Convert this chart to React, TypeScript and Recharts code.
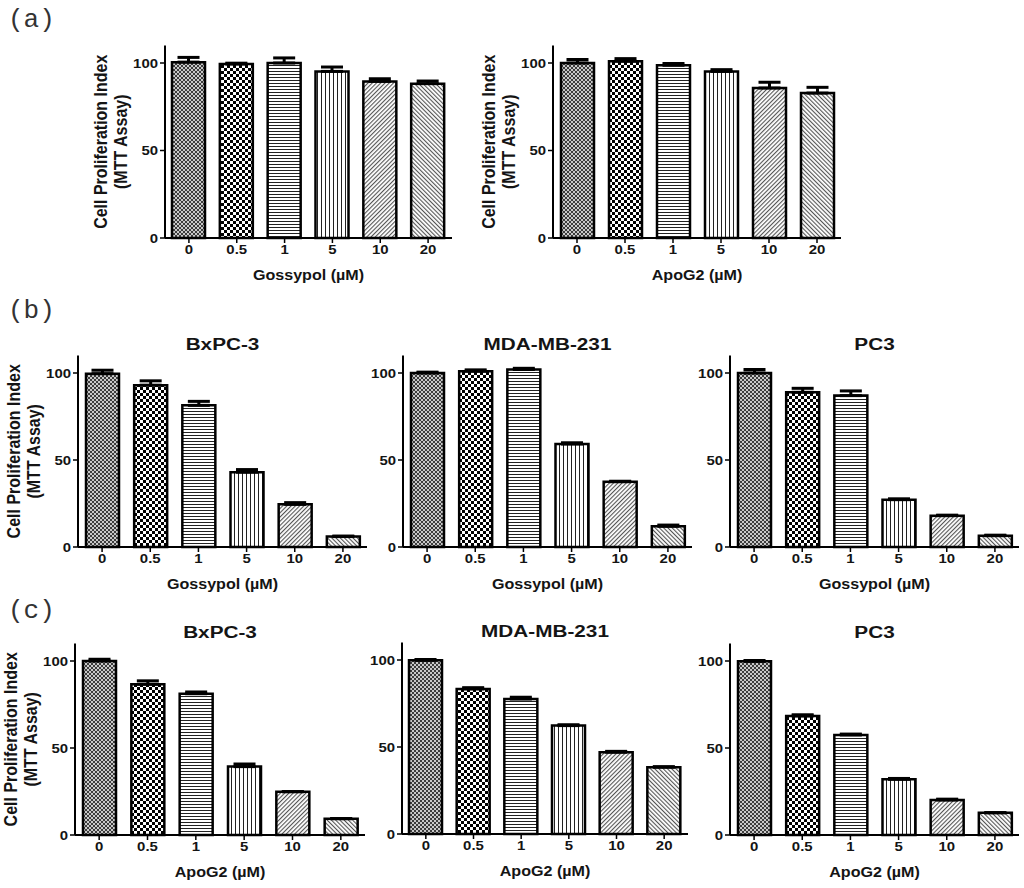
import React from "react";
import { BarChart, Bar, XAxis, YAxis, Cell, ErrorBar } from "recharts";

// doses on the x axis (µM)
const doses = ["0", "0.5", "1", "5", "10", "20"];

// (a) normal cells
const aGossypolMean = [100.5, 99.4, 100, 95.2, 89.5, 88.2];
const aGossypolErr = [2.7, 0.5, 2.9, 2.5, 1.5, 1.5];
const aApoG2Mean = [100, 101, 98.7, 95.2, 85.7, 82.8];
const aApoG2Err = [2, 1.5, 1, 1, 3.3, 3.3];

// (b) gossypol on cancer lines
const bBxpcMean = [99.6, 93, 81.4, 43, 24.5, 6];
const bBxpcErr = [2, 2.5, 2.3, 1.5, 1, 0.3];
const bMdaMean = [100, 101, 102, 59.2, 37.5, 11.9];
const bMdaErr = [0.5, 0.8, 0.7, 0.7, 0.3, 0.7];
const bPc3Mean = [100, 88.9, 87, 27.2, 18, 6.5];
const bPc3Err = [2, 2.3, 2.7, 0.5, 0.3, 0.3];

// (c) ApoG2 on cancer lines
const cBxpcMean = [100, 86.6, 81.2, 39.3, 24.9, 9.4];
const cBxpcErr = [1, 2, 1, 1.5, 0, 0];
const cMdaMean = [99.8, 83.4, 77.6, 62.3, 47, 38.4];
const cMdaErr = [0.5, 0.7, 1, 0.5, 0.5, 0.3];
const cPc3Mean = [99.8, 68.4, 57.5, 32, 20.1, 12.8];
const cPc3Err = [0.5, 0.7, 0.5, 0.5, 0.5, 0];

const yTicks = [0, 50, 100];
const yLabelLines = ["Cell Proliferation Index", "(MTT Assay)"];

interface PanelSpec {
  title?: string;
  xLabel: string;
  means: number[];
  errs: number[];
  yLabel: boolean;
  // layout, in page pixels
  left: number;
  width: number;
  y0: number;
  y100: number;
}

const panels: PanelSpec[] = [
  { xLabel: "Gossypol (µM)", means: aGossypolMean, errs: aGossypolErr, yLabel: true, left: 165, width: 287, y0: 238, y100: 63 },
  { xLabel: "ApoG2 (µM)", means: aApoG2Mean, errs: aApoG2Err, yLabel: true, left: 553, width: 288, y0: 238, y100: 63 },
  { title: "BxPC-3", xLabel: "Gossypol (µM)", means: bBxpcMean, errs: bBxpcErr, yLabel: true, left: 78, width: 289, y0: 547, y100: 373 },
  { title: "MDA-MB-231", xLabel: "Gossypol (µM)", means: bMdaMean, errs: bMdaErr, yLabel: false, left: 403, width: 289, y0: 547, y100: 373 },
  { title: "PC3", xLabel: "Gossypol (µM)", means: bPc3Mean, errs: bPc3Err, yLabel: false, left: 730, width: 289, y0: 547, y100: 373 },
  { title: "BxPC-3", xLabel: "ApoG2 (µM)", means: cBxpcMean, errs: cBxpcErr, yLabel: true, left: 75, width: 290, y0: 835, y100: 661 },
  { title: "MDA-MB-231", xLabel: "ApoG2 (µM)", means: cMdaMean, errs: cMdaErr, yLabel: false, left: 402, width: 286, y0: 834, y100: 660 },
  { title: "PC3", xLabel: "ApoG2 (µM)", means: cPc3Mean, errs: cPc3Err, yLabel: false, left: 730, width: 289, y0: 835, y100: 661 },
];

const panelLetters = [
  { text: "(a)", y: 27 },
  { text: "(b)", y: 318 },
  { text: "(c)", y: 618 },
];

const patternIds = ["p-fine", "p-check", "p-horiz", "p-vert", "p-diagR", "p-diagL"];

const FONT = "'Liberation Sans', Arial, sans-serif";
const INK = "#141414";
const SX = 1.15; // the original figure is a little stretched sideways
const Y_W = 40;
const M_RIGHT = 4;
const X_H = 30;

const Patterns = () => (
  <svg width={0} height={0} style={{ position: "absolute" }}>
    <defs>
      <pattern id="p-fine" patternUnits="userSpaceOnUse" width={4} height={4}>
        <rect width={4} height={4} fill="#c8c8c8" />
        <rect x={0} y={0} width={2} height={2} fill="#3c3c3c" />
        <rect x={2} y={2} width={2} height={2} fill="#3c3c3c" />
      </pattern>
      <pattern id="p-check" patternUnits="userSpaceOnUse" width={6} height={6}>
        <rect width={6} height={6} fill="#fff" />
        <rect x={0} y={0} width={3} height={3} fill="#000" />
        <rect x={3} y={3} width={3} height={3} fill="#000" />
      </pattern>
      <pattern id="p-horiz" patternUnits="userSpaceOnUse" width={4} height={3}>
        <rect width={4} height={3} fill="#fff" />
        <rect x={0} y={0} width={4} height={1} fill="#222" />
      </pattern>
      <pattern id="p-vert" patternUnits="userSpaceOnUse" width={4} height={4}>
        <rect width={4} height={4} fill="#fff" />
        <rect x={0} y={0} width={1} height={4} fill="#222" />
      </pattern>
      <pattern id="p-diagR" patternUnits="userSpaceOnUse" width={3} height={3} patternTransform="rotate(45)">
        <rect width={3} height={3} fill="#fff" />
        <rect x={0} y={0} width={1.1} height={3} fill="#555" />
      </pattern>
      <pattern id="p-diagL" patternUnits="userSpaceOnUse" width={3} height={3} patternTransform="rotate(-45)">
        <rect width={3} height={3} fill="#fff" />
        <rect x={0} y={0} width={1.1} height={3} fill="#555" />
      </pattern>
    </defs>
  </svg>
);

const XTick = ({ x, y, payload }: any) => (
  <text
    transform={`translate(${x}, ${y}) scale(${SX}, 1)`}
    textAnchor="middle"
    dy="0.71em"
    fontFamily={FONT}
    fontWeight={700}
    fontSize={13}
    fill={INK}
  >
    {payload.value}
  </text>
);

const YTick = ({ x, y, payload }: any) => (
  <text
    transform={`translate(${x}, ${y}) scale(${SX}, 1)`}
    textAnchor="end"
    dy="0.355em"
    fontFamily={FONT}
    fontWeight={700}
    fontSize={13}
    fill={INK}
  >
    {payload.value}
  </text>
);

const Panel = ({ p }: { p: PanelSpec }) => {
  const plotH = (p.y0 - p.y100) * 1.1;
  const plotTop = p.y0 - plotH;
  // keep the svg origin on whole pixels so the fine patterns stay crisp
  const boxTop = Math.floor(plotTop - 4);
  const mTop = plotTop - boxTop;
  const boxH = Math.round(mTop + plotH + X_H);
  const data = doses.map((dose, i) => ({
    dose,
    value: p.means[i],
    err: [0, p.errs[i]],
  }));

  return (
    <div style={{ position: "absolute", left: p.left - Y_W, top: boxTop }}>
      <BarChart
        width={Y_W + p.width + M_RIGHT}
        height={boxH}
        data={data}
        margin={{ top: mTop, right: M_RIGHT, bottom: boxH - (mTop + plotH + X_H), left: 0 }}
        barSize={33}
      >
        <XAxis
          dataKey="dose"
          interval={0}
          height={X_H}
          tickSize={5}
          tick={(props: any) => <XTick {...props} />}
          axisLine={{ stroke: "#000", strokeWidth: 2 }}
          tickLine={{ stroke: "#000", strokeWidth: 1.5 }}
        />
        <YAxis
          width={Y_W}
          domain={[0, 110]}
          ticks={yTicks}
          tickSize={5}
          tick={(props: any) => <YTick {...props} />}
          axisLine={{ stroke: "#000", strokeWidth: 2 }}
          tickLine={{ stroke: "#000", strokeWidth: 1.5 }}
        />
        <Bar dataKey="value" stroke="#000" strokeWidth={2.5} isAnimationActive={false}>
          {data.map((d, i) => (
            <Cell key={d.dose} fill={`url(#${patternIds[i]})`} />
          ))}
          <ErrorBar dataKey="err" width={11} strokeWidth={3} stroke="#000" direction="y" isAnimationActive={false} />
        </Bar>
      </BarChart>
    </div>
  );
};

const Overlay = () => (
  <svg width={1024} height={888} style={{ position: "absolute", left: 0, top: 0, pointerEvents: "none" }}>
    {panelLetters.map((l) => (
      <text key={l.text} x={8} y={l.y} fontFamily="'Liberation Mono', 'Courier New', monospace" fontSize={26} fill="#333">
        {l.text}
      </text>
    ))}
    {panels.map((p, i) => {
      const plotH = (p.y0 - p.y100) * 1.1;
      const cx = p.left + p.width / 2;
      const cy = p.y0 - plotH / 2;
      return (
        <g key={i} fontFamily={FONT} fontWeight={700} fill={INK}>
          {p.title && (
            <text
              transform={`translate(${cx}, ${p.y0 - plotH - 10}) scale(1.22, 1)`}
              textAnchor="middle"
              dominantBaseline="middle"
              fontSize={17}
            >
              {p.title}
            </text>
          )}
          <text
            transform={`translate(${cx}, ${p.y0 + 38}) scale(${SX}, 1)`}
            textAnchor="middle"
            dominantBaseline="middle"
            fontSize={14}
          >
            {p.xLabel}
          </text>
          {p.yLabel &&
            yLabelLines.map((line, j) => (
              <text
                key={line}
                transform={`translate(${p.left - 63 + j * 20}, ${cy}) scale(${SX}, 1) rotate(-90)`}
                textAnchor="middle"
                dominantBaseline="middle"
                fontSize={16}
              >
                {line}
              </text>
            ))}
        </g>
      );
    })}
  </svg>
);

export default function App() {
  return (
    <div style={{ position: "absolute", left: 0, top: 0, width: 1024, height: 888, background: "#fff" }}>
      <Patterns />
      {panels.map((p, i) => (
        <Panel key={i} p={p} />
      ))}
      <Overlay />
    </div>
  );
}
